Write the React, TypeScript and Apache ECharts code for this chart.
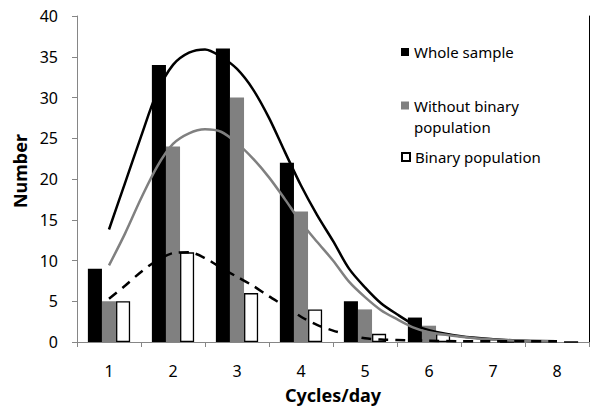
import React, { useEffect, useRef } from "react";
import * as echarts from "echarts";

const categories = ["1", "2", "3", "4", "5", "6", "7", "8"];
const wholeSample = [9, 34, 36, 22, 5, 3, 0, 0];
const withoutBinary = [5, 24, 30, 16, 4, 2, 0, 0];
const binaryPopulation = [5, 11, 6, 4, 1, 1, 0, 0];
const yTicks = { min: 0, max: 40, interval: 5 };

const curveX = [1, 1.25, 1.5, 1.75, 2, 2.25, 2.5, 2.75, 3, 3.25, 3.5, 3.75, 4, 4.25, 4.5, 4.75, 5, 5.25, 5.5, 5.75, 6, 6.5, 7, 7.5, 8];
const wholeFit = [13.8, 19.5, 25.2, 30.6, 34.0, 35.5, 35.9, 35.0, 33.5, 31.0, 27.5, 23.3, 19.2, 15.6, 12.4, 9.0, 6.7, 4.75, 3.4, 2.2, 1.45, 0.7, 0.35, 0.15, 0.1];
const withoutFit = [9.4, 13.3, 17.6, 21.5, 24.3, 25.6, 26.1, 25.8, 24.4, 22.5, 20.2, 17.5, 14.7, 12.3, 10.0, 7.4, 5.5, 3.9, 2.8, 1.8, 1.2, 0.65, 0.3, 0.15, 0.1];
const binaryFit = [5.3, 6.9, 8.6, 10.0, 10.9, 11.0, 10.3, 9.1, 8.0, 6.9, 5.6, 4.4, 3.1, 2.1, 1.4, 0.9, 0.45, 0.3, 0.25, 0.2, 0.15, 0.1, 0.1, 0.1, 0.1];

const FONT = "Noto Sans";

const pairs = (ys: number[]) => curveX.map((x, i) => [x, ys[i]]);

export default function App() {
  const ref = useRef<HTMLDivElement>(null);
  useEffect(() => {
    if (!ref.current) return;
    const chart = echarts.init(ref.current, null, { renderer: "svg" });
    const legendText = { fontFamily: FONT, fontSize: 15, color: "#000", lineHeight: 18 };
    chart.setOption({
      animation: false,
      backgroundColor: "#fff",
      grid: { left: 77, right: 4, top: 16, bottom: 66, containLabel: false },
      legend: [
        {
          data: ["Whole sample"], left: 401, top: 43, padding: 0, icon: "rect",
          itemWidth: 8, itemHeight: 8, itemGap: 0, selectedMode: false,
          textStyle: legendText,
        },
        {
          data: ["Without binary population"], left: 401, top: 74, padding: 0, icon: "rect",
          itemWidth: 8, itemHeight: 8, itemGap: 0, selectedMode: false,
          formatter: () => "\nWithout binary\npopulation",
          textStyle: { ...legendText, lineHeight: 21 },
        },
        {
          data: ["Binary population"], left: 401, top: 148, padding: 0, icon: "rect",
          itemWidth: 8, itemHeight: 8, itemGap: 0, selectedMode: false,
          textStyle: legendText,
        },
      ],
      xAxis: [
        {
          type: "category",
          data: categories,
          position: "bottom",
          axisLine: { lineStyle: { color: "#868686", width: 1 } },
          axisTick: { show: true, length: 5, lineStyle: { color: "#868686" } },
          axisLabel: { fontFamily: FONT, fontSize: 16, color: "#000", margin: 21 },
          name: "Cycles/day",
          nameLocation: "middle",
          nameGap: 44,
          nameTextStyle: { fontFamily: FONT, fontSize: 18, fontWeight: "bold", color: "#000" },
        },
        {
          type: "value",
          min: 0.5,
          max: 8.5,
          position: "top",
          axisLine: { show: true, lineStyle: { color: "#868686", width: 1 } },
          axisTick: { show: false },
          axisLabel: { show: false },
          splitLine: { show: false },
        },
      ],
      yAxis: [
        {
          type: "value",
          min: yTicks.min,
          max: yTicks.max,
          interval: yTicks.interval,
          axisLine: { show: true, lineStyle: { color: "#868686", width: 1 } },
          axisTick: { show: true, length: 5, lineStyle: { color: "#868686" } },
          axisLabel: { fontFamily: FONT, fontSize: 16, color: "#000", margin: 19 },
          splitLine: { show: false },
          name: "Number",
          nameLocation: "middle",
          nameGap: 40,
          nameTextStyle: { fontFamily: FONT, fontSize: 18, fontWeight: "bold", color: "#000", padding: [0, 0, 0, 16] },
        },
        {
          type: "value",
          position: "right",
          min: yTicks.min,
          max: yTicks.max,
          axisLine: { show: true, lineStyle: { color: "#000", width: 1 } },
          axisTick: { show: false },
          axisLabel: { show: false },
          splitLine: { show: false },
        },
      ],
      series: [
        {
          name: "Whole sample", type: "bar", data: wholeSample,
          barGap: "0%", barCategoryGap: "34%",
          itemStyle: { color: "#000" },
        },
        {
          name: "Without binary population", type: "bar", data: withoutBinary,
          barGap: "0%", barCategoryGap: "34%",
          itemStyle: { color: "#808080" },
        },
        {
          name: "Binary population", type: "bar", data: binaryPopulation,
          barGap: "0%", barCategoryGap: "34%",
          itemStyle: { color: "#fff", borderColor: "#000", borderWidth: 1.3 },
        },
        {
          name: "Whole sample fit", type: "line", xAxisIndex: 1, data: pairs(wholeFit),
          smooth: 0.3, symbol: "none", lineStyle: { color: "#000", width: 2.5 }, z: 5,
        },
        {
          name: "Without binary fit", type: "line", xAxisIndex: 1, data: pairs(withoutFit),
          smooth: 0.3, symbol: "none", lineStyle: { color: "#808080", width: 2.5 }, z: 5,
        },
        {
          name: "Binary fit", type: "line", xAxisIndex: 1, data: pairs(binaryFit),
          smooth: 0.3, symbol: "none", lineStyle: { color: "#000", width: 2.5, type: [10, 7] }, z: 5,
        },
      ],
    });
    return () => chart.dispose();
  }, []);
  return (
    <div
      ref={ref}
      style={{ position: "fixed", left: 0, top: 0, width: 593, height: 409, background: "#fff" }}
    />
  );
}
